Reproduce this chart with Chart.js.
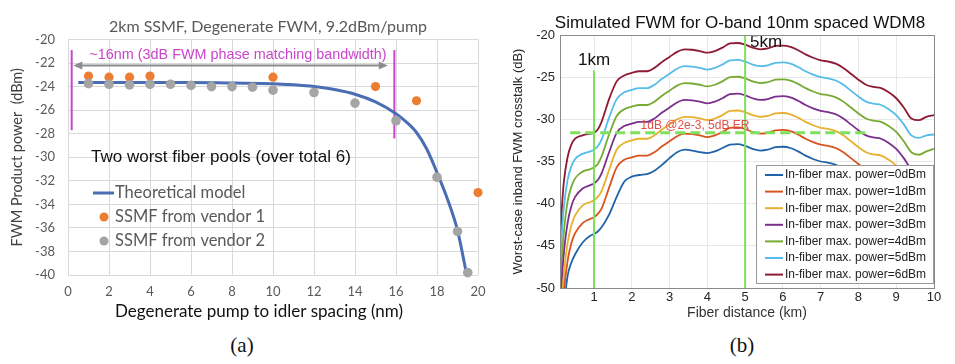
<!DOCTYPE html>
<html>
<head>
<meta charset="utf-8">
<script src="https://cdn.jsdelivr.net/npm/chart.js@4.4.1/dist/chart.umd.min.js"></script>
<style>
  body { margin: 0; background: #fff; }
  .wrap { position: relative; width: 955px; height: 364px; overflow: hidden; background: #fff; }
  #chartA { position: absolute; left: 0; top: 0; }
  #chartB { position: absolute; left: 500px; top: 0; }
  .cap { position: absolute; top: 333px; width: 60px; margin-left: -30px; text-align: center;
         font: 21px "Liberation Serif", "Times New Roman", serif; line-height: 24px; color: #111; }
</style>
</head>
<body>
<div class="wrap">
  <canvas id="chartA" width="495" height="330"></canvas>
  <canvas id="chartB" width="455" height="330"></canvas>
  <div class="cap" style="left:242px">(a)</div>
  <div class="cap" style="left:742px">(b)</div>
</div>
<script>
// ── Panel (a): 2km SSMF, degenerate FWM ──────────────────────────────────────
const spacingTicks = [0, 2, 4, 6, 8, 10, 12, 14, 16, 18, 20];
const powerTicksA  = [-40, -38, -36, -34, -32, -30, -28, -26, -24, -22, -20];

const modelX = [0.5, 2, 4, 6, 8, 10, 11, 12, 13, 14, 15, 16, 16.5, 17, 17.5, 18, 18.5, 19, 19.2, 19.45];
const modelY = [-23.65, -23.65, -23.65, -23.65, -23.7, -23.75, -23.85, -24.0, -24.25, -24.65, -25.3, -26.3, -27.0, -27.9, -29.3, -31.3, -33.5, -36.2, -37.8, -40.0];

const vendor1X = [1, 2, 3, 4, 10, 15, 17, 20];
const vendor1Y = [-23.1, -23.2, -23.2, -23.1, -23.2, -24.0, -25.2, -33.0];

const vendor2X = [1, 2, 3, 4, 5, 6, 7, 8, 9, 10, 12, 14, 16, 18, 19, 19.5];
const vendor2Y = [-23.75, -23.8, -23.85, -23.8, -23.8, -23.9, -24.0, -24.0, -24.05, -24.3, -24.5, -25.4, -26.9, -31.7, -36.3, -39.8];

// bandwidth annotation (data units)
const bwEdgesX  = [0.18, 15.92];
const bwTopY    = -20.9;
const bwBottomY = [-27.7, -28.4];
const arrowX    = [0.26, 15.6];
const arrowY    = -22.2;

// ── Panel (b): simulated FWM, O-band 10nm WDM8 ───────────────────────────────
const distKm = [0.1, 0.15, 0.2, 0.3, 0.4, 0.5, 0.7, 0.9, 1.0, 1.1, 1.2, 1.4, 1.6, 1.8,
  2.0, 2.2, 2.4, 2.6, 2.8, 3.0, 3.2, 3.4, 3.6, 3.8, 4.0, 4.2, 4.4, 4.6, 4.8, 5.0, 5.2, 5.4, 5.6, 5.8,
  6.0, 6.2, 6.4, 6.6, 6.8, 7.0, 7.2, 7.4, 7.6, 7.8, 8.0, 8.2, 8.4, 8.6, 8.8, 9.0, 9.2, 9.4, 9.6, 9.8, 10.0];
const distTicks   = [1, 2, 3, 4, 5, 6, 7, 8, 9, 10];
const xtalkTicks  = [-50, -45, -40, -35, -30, -25, -20];
const powerLabels = ['0dBm', '1dBm', '2dBm', '3dBm', '4dBm', '5dBm', '6dBm'];

const xt0 = [-59, -55, -52.5, -48.6, -47.0, -46.0, -44.6, -43.8, -43.6, -43.3, -42.8, -41.3, -39.2, -37.4,
  -36.8, -36.6, -36.5, -36.1, -35.4, -34.6, -33.9, -33.6, -33.7, -33.9, -34.0, -33.8, -33.4, -33.0, -32.95, -33.15, -33.5, -33.7, -33.6, -33.3,
  -33.25, -33.4, -33.8, -34.3, -34.7, -35.0, -35.15, -35.4, -35.9, -36.6, -37.3, -37.9, -38.15, -38.3, -38.8, -39.5, -40.6, -41.9, -42.2, -41.8, -41.5];
const xt1 = [-57, -53.5, -50.5, -46.8, -44.7, -43.5, -42.3, -41.8, -41.6, -41.2, -40.6, -38.1, -35.7, -34.8,
  -34.5, -34.3, -34.3, -33.9, -33.2, -32.6, -32.0, -31.7, -31.75, -31.9, -32.1, -31.9, -31.5, -31.0, -30.95, -31.15, -31.5, -31.7, -31.6, -31.3,
  -31.25, -31.4, -31.8, -32.3, -32.7, -33.0, -33.15, -33.4, -33.9, -34.6, -35.3, -35.9, -36.15, -36.3, -36.8, -37.5, -38.6, -39.9, -40.2, -39.8, -39.5];
const xt2 = [-55, -51.5, -48.5, -44.7, -42.6, -41.4, -40.2, -39.8, -39.6, -39.2, -38.5, -36.0, -33.6, -32.8,
  -32.5, -32.3, -32.3, -31.9, -31.2, -30.6, -30.0, -29.7, -29.75, -29.9, -30.1, -29.9, -29.5, -29.0, -28.95, -29.15, -29.5, -29.7, -29.6, -29.3,
  -29.25, -29.4, -29.8, -30.3, -30.7, -31.0, -31.15, -31.4, -31.9, -32.6, -33.3, -33.9, -34.15, -34.3, -34.8, -35.5, -36.6, -37.9, -38.2, -37.8, -37.5];
const xt3 = [-53, -49.0, -46.0, -42.3, -40.3, -39.2, -38.2, -37.8, -37.6, -37.2, -36.4, -33.9, -31.6, -30.8,
  -30.5, -30.3, -30.3, -29.9, -29.2, -28.6, -28.0, -27.7, -27.75, -27.9, -28.1, -27.9, -27.5, -27.0, -26.95, -27.15, -27.5, -27.7, -27.6, -27.3,
  -27.25, -27.4, -27.8, -28.3, -28.7, -29.0, -29.15, -29.4, -29.9, -30.6, -31.3, -31.9, -32.15, -32.3, -32.8, -33.5, -34.6, -35.9, -36.2, -35.8, -35.5];
const xt4 = [-50.5, -46.5, -43.5, -39.8, -38.0, -37.0, -36.2, -35.9, -35.7, -35.3, -34.4, -31.8, -29.6, -28.8,
  -28.5, -28.3, -28.3, -27.9, -27.2, -26.6, -26.0, -25.7, -25.75, -25.9, -26.1, -25.9, -25.5, -25.0, -24.95, -25.15, -25.5, -25.7, -25.6, -25.3,
  -25.25, -25.4, -25.8, -26.3, -26.7, -27.0, -27.15, -27.4, -27.9, -28.6, -29.3, -29.9, -30.15, -30.3, -30.8, -31.5, -32.6, -33.9, -34.2, -33.8, -33.5];
const xt5 = [-47.5, -43.5, -40.5, -37.2, -35.6, -34.7, -34.1, -33.8, -33.6, -33.2, -32.4, -29.8, -27.6, -26.8,
  -26.5, -26.3, -26.3, -25.9, -25.2, -24.6, -24.0, -23.7, -23.75, -23.9, -24.1, -23.9, -23.5, -23.0, -22.95, -23.15, -23.5, -23.7, -23.6, -23.3,
  -23.25, -23.4, -23.8, -24.3, -24.7, -25.0, -25.15, -25.4, -25.9, -26.6, -27.3, -27.9, -28.15, -28.3, -28.8, -29.5, -30.6, -31.9, -32.2, -31.9, -31.8];
const xt6 = [-45.0, -40.5, -37.5, -34.5, -33.0, -32.3, -31.9, -31.7, -31.6, -31.2, -30.3, -27.6, -25.5, -24.8,
  -24.5, -24.3, -24.3, -23.9, -23.2, -22.6, -22.0, -21.7, -21.75, -21.9, -22.1, -21.9, -21.5, -21.0, -20.95, -21.15, -21.5, -21.7, -21.6, -21.3,
  -21.25, -21.4, -21.8, -22.3, -22.7, -23.0, -23.15, -23.4, -23.9, -24.6, -25.3, -25.9, -26.15, -26.3, -26.8, -27.5, -28.6, -29.9, -30.1, -29.7, -29.5];

const thresholdY = -31.6;
const thresholdX = [0.37, 8.2];
const markKm     = [1, 5];
const markTopY   = [-24.2, -20];

const lineColors = ['#1f63a8', '#d9531e', '#e8b030', '#7b2f8c', '#77ab33', '#55bde8', '#8e1b33'];

// ── helpers ──────────────────────────────────────────────────────────────────
const pts = (xs, ys) => xs.map((x, i) => ({ x, y: ys[i] }));
const setTicks = vals => scale => { scale.ticks = vals.map(v => ({ value: v })); };
const EXCEL = 'Lato, "Open Sans", sans-serif';
const ARIAL = '"Liberation Sans", Arial, sans-serif';

// ── chart (a) ────────────────────────────────────────────────────────────────
const annotateA = {
  id: 'annotateA',
  beforeDatasetsDraw(chart) {
    const { ctx, scales: { x, y } } = chart;
    ctx.save();
    ctx.strokeStyle = '#c945cc'; ctx.lineWidth = 2;
    bwEdgesX.forEach((v, i) => {
      ctx.beginPath();
      ctx.moveTo(x.getPixelForValue(v), y.getPixelForValue(bwTopY));
      ctx.lineTo(x.getPixelForValue(v), y.getPixelForValue(bwBottomY[i]));
      ctx.stroke();
    });
    const ay = y.getPixelForValue(arrowY);
    const a0 = x.getPixelForValue(arrowX[0]), a1 = x.getPixelForValue(arrowX[1]);
    ctx.strokeStyle = ctx.fillStyle = '#8c8c8c';
    ctx.beginPath(); ctx.moveTo(a0 + 6, ay); ctx.lineTo(a1 - 6, ay); ctx.stroke();
    [[a0, 1], [a1, -1]].forEach(([px, d]) => {
      ctx.beginPath(); ctx.moveTo(px, ay); ctx.lineTo(px + 9 * d, ay - 4); ctx.lineTo(px + 9 * d, ay + 4);
      ctx.closePath(); ctx.fill();
    });
    ctx.textBaseline = 'middle';
    ctx.font = '14.4px ' + ARIAL; ctx.fillStyle = '#c945cc'; ctx.textAlign = 'center';
    ctx.fillText('~16nm (3dB FWM phase matching bandwidth)', 238, 55);
    ctx.font = '17px ' + ARIAL; ctx.fillStyle = '#111'; ctx.textAlign = 'left';
    ctx.fillText('Two worst fiber pools (over total 6)', 91, 157);
    ctx.restore();
  },
  afterDraw(chart) {
    const { ctx } = chart;
    ctx.save();
    ctx.textBaseline = 'middle';
    ctx.font = '16px ' + EXCEL; ctx.fillStyle = '#595959'; ctx.textAlign = 'center';
    ctx.fillText('2km SSMF, Degenerate FWM, 9.2dBm/pump', 268, 27);
    ctx.font = '17px ' + EXCEL; ctx.fillStyle = '#111';
    ctx.fillText('Degenerate pump to idler spacing (nm)', 259, 312);
    // in-plot legend
    const order = [2, 0, 1];
    order.forEach((di, row) => {
      const ds = chart.data.datasets[di];
      const cy = 193 + row * 24;
      if (ds.showLine) {
        ctx.strokeStyle = ds.borderColor; ctx.lineWidth = 3;
        ctx.beginPath(); ctx.moveTo(93, cy); ctx.lineTo(114, cy); ctx.stroke();
      } else {
        ctx.fillStyle = ds.backgroundColor;
        ctx.beginPath(); ctx.arc(104, cy, 4.5, 0, Math.PI * 2); ctx.fill();
      }
      ctx.fillStyle = '#595959'; ctx.textAlign = 'left'; ctx.font = '16.5px ' + EXCEL;
      ctx.fillText(ds.label, 115, cy);
    });
    ctx.restore();
  }
};

new Chart(document.getElementById('chartA'), {
  type: 'scatter',
  data: { datasets: [
    { label: 'SSMF from vendor 1', data: pts(vendor1X, vendor1Y), backgroundColor: '#ed7d31', borderColor: '#ed7d31',
      pointRadius: 4.6, pointBorderWidth: 0, clip: false, order: 1 },
    { label: 'SSMF from vendor 2', data: pts(vendor2X, vendor2Y), backgroundColor: '#a5a5a5', borderColor: '#a5a5a5',
      pointRadius: 4.8, pointBorderWidth: 0, clip: false, order: 0 },
    { label: 'Theoretical model', data: pts(modelX, modelY), showLine: true, borderColor: '#4a6db3', borderWidth: 3,
      pointRadius: 0, cubicInterpolationMode: 'monotone', order: 2 }
  ] },
  options: {
    responsive: false, animation: false,
    layout: { padding: { top: 39.5, right: 17, left: 0, bottom: 0 } },
    plugins: { legend: { display: false }, tooltip: { enabled: false } },
    scales: {
      x: {
        type: 'linear', min: 0, max: 20, afterBuildTicks: setTicks(spacingTicks),
        afterFit: s => { s.height = 55; },
        grid: { color: '#d9d9d9', drawTicks: false }, border: { display: false },
        ticks: { padding: 9, color: '#595959', font: { family: EXCEL, size: 13 } }
      },
      y: {
        min: -40, max: -20, afterBuildTicks: setTicks(powerTicksA),
        afterFit: s => { s.width = 68; },
        grid: { color: '#d9d9d9', drawTicks: false }, border: { display: false },
        ticks: { padding: 13, color: '#595959', font: { family: EXCEL, size: 13 } },
        title: { display: true, text: 'FWM Product power  (dBm)', color: '#404040',
                 font: { family: EXCEL, size: 14.5 }, padding: { top: 8.4, bottom: 0 } }
      }
    }
  },
  plugins: [annotateA]
});

// ── chart (b) ────────────────────────────────────────────────────────────────
const series = [xt0, xt1, xt2, xt3, xt4, xt5, xt6];

const annotateB = {
  id: 'annotateB',
  afterDatasetsDraw(chart) {
    const { ctx, chartArea: ca, scales: { x, y } } = chart;
    ctx.save();
    ctx.strokeStyle = '#7ee05c'; ctx.lineWidth = 2;
    markKm.forEach((km, i) => {
      const px = x.getPixelForValue(km);
      ctx.beginPath(); ctx.moveTo(px, y.getPixelForValue(markTopY[i])); ctx.lineTo(px, ca.bottom); ctx.stroke();
    });
    ctx.lineWidth = 3; ctx.setLineDash([10, 5]);
    const ty = y.getPixelForValue(thresholdY);
    ctx.beginPath(); ctx.moveTo(x.getPixelForValue(thresholdX[0]), ty); ctx.lineTo(x.getPixelForValue(thresholdX[1]), ty); ctx.stroke();
    ctx.setLineDash([]);
    ctx.textBaseline = 'middle';
    ctx.font = '12px ' + ARIAL; ctx.fillStyle = '#e0504a'; ctx.textAlign = 'center';
    ctx.fillText('1dB @2e-3, 5dB ER', 195, 126);
    ctx.font = '17px ' + ARIAL; ctx.fillStyle = '#111'; ctx.textAlign = 'left';
    ctx.fillText('1km', 78, 60);
    ctx.fillText('5km', 250, 42);

    // legend box, drawn over the curves like MATLAB's 'southeast' legend
    const bx = 256, by = 165, bw = 177, bh = 118;
    ctx.fillStyle = '#fff'; ctx.fillRect(bx, by, bw, bh);
    ctx.strokeStyle = '#9a9a9a'; ctx.lineWidth = 1; ctx.strokeRect(bx + 0.5, by + 0.5, bw, bh);
    ctx.font = '12px ' + ARIAL; ctx.textAlign = 'left';
    chart.data.datasets.forEach((ds, i) => {
      const cy = by + 10 + i * 16.6;
      ctx.strokeStyle = ds.borderColor; ctx.lineWidth = 2;
      ctx.beginPath(); ctx.moveTo(bx + 9, cy); ctx.lineTo(bx + 27, cy); ctx.stroke();
      ctx.fillStyle = '#222'; ctx.fillText(ds.label, bx + 29, cy);
    });
    ctx.restore();
  },
  afterDraw(chart) {
    const { ctx, chartArea: ca } = chart;
    ctx.save();
    ctx.strokeStyle = '#8a8a8a'; ctx.lineWidth = 1;
    ctx.strokeRect(Math.round(ca.left) + 0.5, Math.round(ca.top) + 0.5, Math.round(ca.width), Math.round(ca.height));
    ctx.textBaseline = 'middle'; ctx.textAlign = 'center';
    ctx.font = '17px ' + ARIAL; ctx.fillStyle = '#111';
    ctx.fillText('Simulated FWM for O-band 10nm spaced WDM8', 240, 23);
    ctx.restore();
  }
};

new Chart(document.getElementById('chartB'), {
  type: 'line',
  data: { datasets: series.map((s, i) => ({
    label: 'In-fiber max. power=' + powerLabels[i], data: pts(distKm, s),
    borderColor: lineColors[i], borderWidth: 1.8, pointRadius: 0, cubicInterpolationMode: 'monotone', fill: false
  })) },
  options: {
    responsive: false, animation: false,
    layout: { padding: { top: 35, right: 21, left: 0, bottom: 0 } },
    plugins: { legend: { display: false }, tooltip: { enabled: false } },
    scales: {
      x: {
        type: 'linear', min: 0.1, max: 10, afterBuildTicks: setTicks(distTicks),
        afterFit: s => { s.height = 42; },
        grid: { color: '#e8e8e8', drawTicks: false }, border: { display: false },
        ticks: { padding: 2, color: '#262626', font: { family: ARIAL, size: 13 } },
        title: { display: true, text: 'Fiber distance (km)', color: '#333',
                 font: { family: ARIAL, size: 14 }, padding: { top: 0, bottom: 8.6 } }
      },
      y: {
        min: -50, max: -20, afterBuildTicks: setTicks(xtalkTicks),
        afterFit: s => { s.width = 60; },
        grid: { color: '#e8e8e8', drawTicks: false }, border: { display: false },
        ticks: { padding: 5, color: '#262626', font: { family: ARIAL, size: 13 } },
        title: { display: true, text: 'Worst-case inband FWM crosstalk (dB)', color: '#262626',
                 font: { family: ARIAL, size: 13 }, padding: { top: 11, bottom: 0 } }
      }
    }
  },
  plugins: [annotateB]
});
</script>
</body>
</html>
